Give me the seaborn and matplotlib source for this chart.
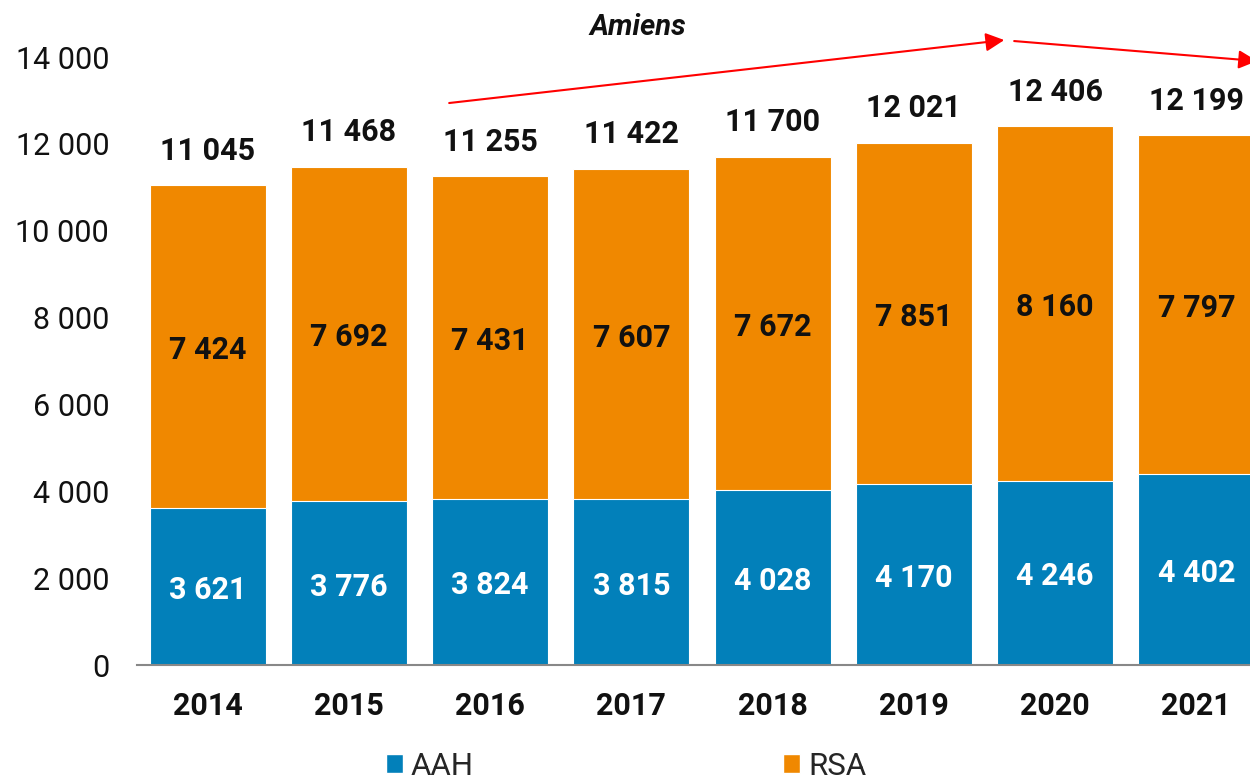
import matplotlib
matplotlib.use("Agg")
import matplotlib.pyplot as plt
import seaborn as sns
import pandas as pd
import numpy as np
from matplotlib.patches import Patch

years = ["2014", "2015", "2016", "2017", "2018", "2019", "2020", "2021"]
aah = [3621, 3776, 3824, 3815, 4028, 4170, 4246, 4402]
rsa = [7424, 7692, 7431, 7607, 7672, 7851, 8160, 7797]
series_names = ["AAH", "RSA"]
yticks = [0, 2000, 4000, 6000, 8000, 10000, 12000, 14000]
title = "Amiens"

BLUE = "#0280BA"
ORANGE = "#F08800"

sns.set_theme(style="white")
plt.rcParams["font.family"] = ["Roboto", "DejaVu Sans"]

def fmt(v):
    return f"{v:,}".replace(",", " ")

df = pd.DataFrame({"year": years, "AAH": aah, "RSA": rsa})
df["total"] = df["AAH"] + df["RSA"]

fig = plt.figure(figsize=(12.5, 7.78), dpi=100)
ax = fig.add_axes([0.1096, 0.1452, 0.904, 0.7815])

sns.barplot(data=df, x="year", y="total", color=ORANGE, width=0.82, ax=ax,
            saturation=1, edgecolor="white", linewidth=0.8)
sns.barplot(data=df, x="year", y="AAH", color=BLUE, width=0.82, ax=ax,
            saturation=1, edgecolor="white", linewidth=0.8)

ax.set_xlim(-0.5, 7.5)
ax.set_ylim(0, 14000)
ax.set_yticks(yticks)
ax.set_yticklabels([fmt(v) for v in yticks], fontsize=22, color="#111111")
ax.tick_params(axis="y", length=0, pad=20)
ax.set_xticks(range(len(years)))
ax.set_xticklabels(years, fontsize=22, fontweight="bold", color="#111111")
ax.tick_params(axis="x", length=0, pad=19)
ax.set_xticks(np.arange(-0.5, len(years), 2), minor=True)
ax.tick_params(axis="x", which="minor", length=8, width=1.5, color="#888888")
ax.set_xlabel("")
ax.set_ylabel("")
for s in ["top", "right", "left"]:
    ax.spines[s].set_visible(False)
ax.spines["bottom"].set_color("#888888")
ax.spines["bottom"].set_linewidth(1.5)

for i, (a, r) in enumerate(zip(aah, rsa)):
    ax.annotate(fmt(a), xy=(i, a / 2), xytext=(0, -2.5), textcoords="offset points",
                ha="center", va="center", fontsize=22, fontweight="bold", color="white")
    ax.annotate(fmt(r), xy=(i, a + r / 2), xytext=(0, -2.5), textcoords="offset points",
                ha="center", va="center", fontsize=22, fontweight="bold", color="#111111")
    ax.annotate(fmt(a + r), xy=(i, a + r), xytext=(0, 25), textcoords="offset points",
                ha="center", va="center", fontsize=22, fontweight="bold",
                color="#111111", annotation_clip=False)

ax.text(0.443, 1.049, title, transform=ax.transAxes, ha="center", va="center",
        fontsize=21, fontweight="bold", fontstyle="italic", color="#111111")

arrow_kw = dict(arrowstyle="-|>", color="#FF0000", lw=1.5, mutation_scale=28,
                shrinkA=0, shrinkB=0)
ax.annotate("", xy=(5.64, 14391), xytext=(1.71, 12941), arrowprops=arrow_kw,
            annotation_clip=False)
ax.annotate("", xy=(7.43, 13908), xytext=(5.71, 14368), arrowprops=arrow_kw,
            annotation_clip=False)

handles = [Patch(facecolor=BLUE, label=series_names[0]),
           Patch(facecolor=ORANGE, label=series_names[1])]
fig.legend(handles=handles, loc="center", bbox_to_anchor=(0.5008, 0.015), ncol=2,
           frameon=False, fontsize=22.5, handlelength=0.54, handleheight=0.54,
           handletextpad=0.26, columnspacing=9.9)

fig.savefig("out.png", dpi=100)
